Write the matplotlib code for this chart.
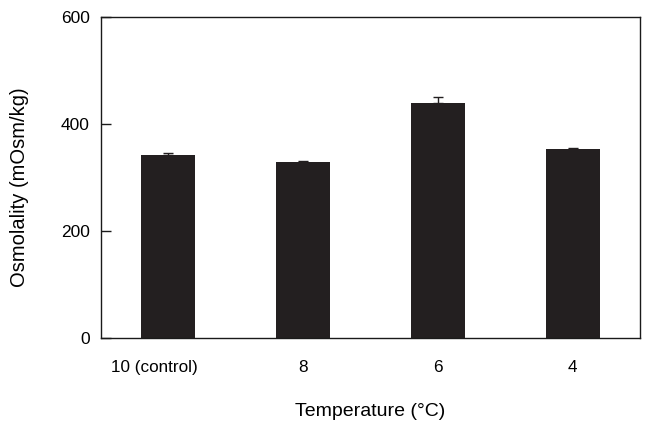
import numpy as np
import matplotlib
matplotlib.use('Agg')
import matplotlib.pyplot as plt
import matplotlib.transforms as mtransforms

plt.rcParams['font.family'] = ['Liberation Sans', 'DejaVu Sans']

categories = ['10 (control)', '8', '6', '4']
osmolality = [342, 329, 439, 353]
err_upper = [4, 2, 11, 3]

bar_color = '#231f20'
line_color = '#1a1a1a'

fig = plt.figure(figsize=(6.56, 4.26), dpi=100)
ax = fig.add_axes([0.154, 0.2066, 0.8216, 0.7535])

x = np.arange(len(categories))
ax.bar(x, osmolality, width=0.4, color=bar_color, zorder=2)
ax.errorbar(x, osmolality, yerr=[np.zeros(len(err_upper)), err_upper],
            fmt='none', ecolor=bar_color, elinewidth=1, capsize=3.5, capthick=1, zorder=3)

ax.set_xlim(-0.5, 3.5)
ax.set_ylim(0, 600)
ax.set_yticks([0, 200, 400, 600])
ax.set_xticks(x)
ax.set_xticklabels(categories)

for s in ax.spines.values():
    s.set_color(line_color)
    s.set_linewidth(1)

ax.tick_params(axis='y', direction='in', length=7, width=1, color=line_color,
               labelsize=12.5, pad=8)
ax.tick_params(axis='x', length=0, labelsize=12.3, pad=16)

# first label sits a bit left of its bar in the original
lab0 = ax.get_xticklabels()[0]
lab0.set_transform(lab0.get_transform() + mtransforms.ScaledTranslation(-14 / 100, 0, fig.dpi_scale_trans))

ax.set_xlabel('Temperature (°C)', fontsize=14, labelpad=20)
ax.set_ylabel('Osmolality (mOsm/kg)', fontsize=14.5, labelpad=23)
ax.yaxis.label.set_y(0.47)

fig.savefig('out.png', dpi=100)
